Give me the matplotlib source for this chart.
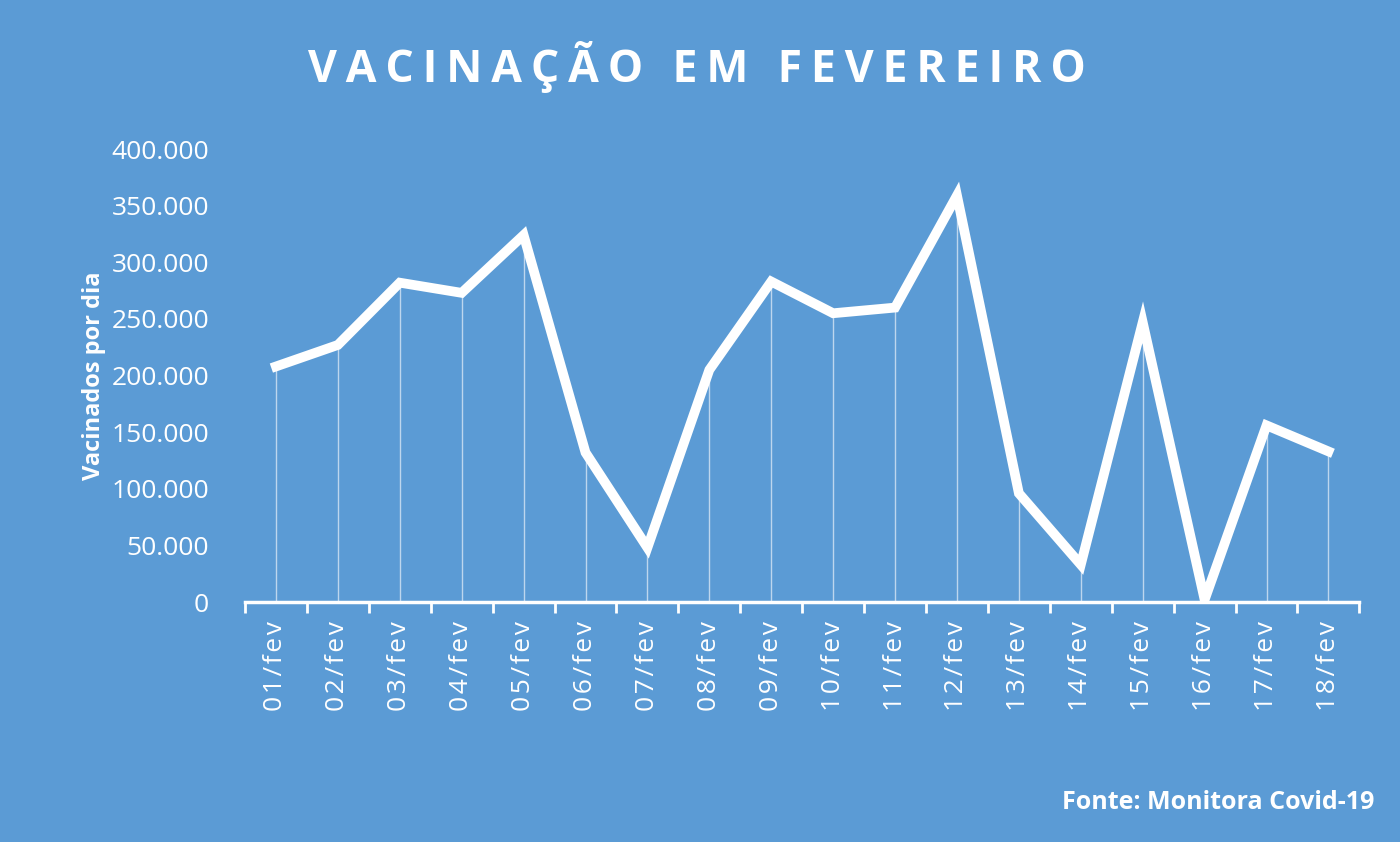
import matplotlib
matplotlib.use("Agg")
import matplotlib.pyplot as plt
from matplotlib.ticker import FuncFormatter

days = ["01/fev","02/fev","03/fev","04/fev","05/fev","06/fev","07/fev","08/fev","09/fev",
        "10/fev","11/fev","12/fev","13/fev","14/fev","15/fev","16/fev","17/fev","18/fev"]
vacinados = [208000, 227000, 282000, 273000, 324000, 132000, 48000, 205000, 283000,
             255000, 260000, 359000, 96000, 33000, 247000, 2000, 156000, 133000]

bg = "#5B9BD5"
plt.rcParams['font.family'] = ['Open Sans', 'DejaVu Sans']
fig = plt.figure(figsize=(14, 8.42), dpi=100, facecolor=bg)
ax = fig.add_axes([0.175, 0.285, 0.796, 0.538], facecolor=bg)
x = list(range(len(days)))
ax.vlines(x, 0, vacinados, color="white", lw=1, alpha=0.6)
ax.plot(x, vacinados, color="white", lw=7, solid_joinstyle="miter", zorder=3)
ax.set_xlim(-0.5, len(days) - 0.5)
ax.set_ylim(0, 400000)
ax.set_yticks(range(0, 400001, 50000))
ax.yaxis.set_major_formatter(FuncFormatter(lambda v, p: f"{int(v):,}".replace(",", ".")))
ax.set_xticks(x)
ax.set_xticklabels(["\u200a".join(d) for d in days], rotation=90, fontsize=19, color="white")
ax.set_xticks([i - 0.5 for i in range(len(days) + 1)], minor=True)
ax.tick_params(axis="x", which="major", length=0, pad=14)
ax.tick_params(axis="x", which="minor", length=8, width=2, color="white", direction="out")
ax.tick_params(axis="y", length=0, labelsize=19, labelcolor="white", pad=26)
for s in ["top", "right", "left"]:
    ax.spines[s].set_visible(False)
ax.spines["bottom"].set_color("white")
ax.spines["bottom"].set_linewidth(2.5)
ax.set_ylabel("Vacinados por dia", fontsize=17, fontweight="bold", color="white", labelpad=4)
fig.text(0.498, 0.92, "\u2009".join("VACINAÇÃO EM FEVEREIRO"), ha="center", va="center",
         fontsize=32, fontweight="bold", color="white")
fig.text(0.982, 0.047, "Fonte: Monitora Covid-19", ha="right", va="center",
         fontsize=18, fontweight="bold", color="white")
fig.savefig("out.png", dpi=100, facecolor=bg)
